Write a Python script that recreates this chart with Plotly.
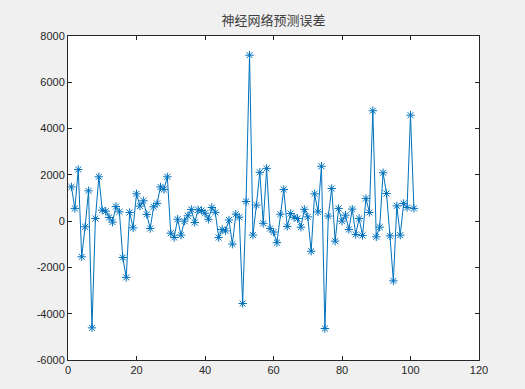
import plotly.graph_objects as go

sample_index = list(range(1, 102))
prediction_error = [
    1480, 550, 2230, -1540, -245, 1310, -4610, 115, 1915, 475,
    430, 160, -43, 630, 400, -1570, -2430, 375, -290, 1180,
    650, 880, 290, -317, 620, 765, 1480, 1370, 1915, -520,
    -705, 85, -605, 0, 230, 505, -57, 490, 460, 340,
    80, 590, 380, -710, -360, -420, 50, -995, 300, 170,
    -3560, 850, 7170, -600, 690, 2110, -95, 2280, -320, -470,
    -930, 300, 1370, -230, 330, 170, 115, -260, 510, 185,
    -1300, 1180, 400, 2370, -4640, 220, 1410, -865, 550, 0,
    260, -360, 520, -575, 115, -620, 980, 375, 4770, -680,
    -260, 2090, 1195, -635, -2580, 660, -605, 765, 590, 4580,
    550,
]
x_ticks = [0, 20, 40, 60, 80, 100, 120]
y_ticks = [-6000, -4000, -2000, 0, 2000, 4000, 6000, 8000]
y_tick_labels = ["-6000", "-4000", "-2000", "0", "2000", "4000", "6000", "8000"]
title_text = "神经网络预测误差"

fig = go.Figure()
fig.add_trace(go.Scatter(
    x=sample_index, y=prediction_error,
    mode="lines+markers",
    line=dict(color="#0072BD", width=1),
    marker=dict(symbol="asterisk-open", size=7, color="#0072BD",
                line=dict(color="#0072BD", width=1)),
    showlegend=False,
    hoverinfo="skip",
))

axis_common = dict(
    showline=True, linecolor="#262626", linewidth=1, mirror="ticks",
    ticks="inside", ticklen=4, tickcolor="#262626", tickwidth=1,
    showgrid=False, zeroline=False,
    tickfont=dict(family="Liberation Sans, Arial, sans-serif", size=11, color="#262626"),
)

fig.update_layout(
    width=525, height=389,
    paper_bgcolor="#f0f0f0", plot_bgcolor="#ffffff",
    margin=dict(l=68, r=46, t=36, b=29),
    title=dict(text=title_text, x=0.5, xref="paper", xanchor="center", y=1 - 20 / 389,
               yanchor="middle", yref="container",
               font=dict(family="Noto Sans CJK SC", size=13, color="#404040")),
    xaxis=dict(range=[0, 120], tickvals=x_ticks, **axis_common),
    yaxis=dict(range=[-6000, 8000], tickvals=y_ticks, ticktext=y_tick_labels, **axis_common),
)

fig.write_html(
    "out.html",
    config={"displayModeBar": False, "staticPlot": True},
    post_script="document.body.style.margin='0';document.body.style.padding='0';"
                "document.body.style.background='#f0f0f0';"
                "document.body.style.overflow='hidden';",
)
